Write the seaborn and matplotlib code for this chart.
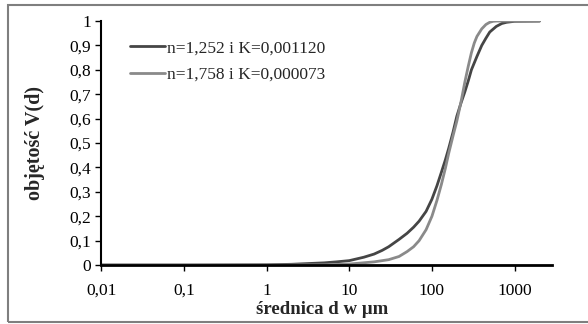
import numpy as np
import pandas as pd
import seaborn as sns
import matplotlib
matplotlib.use("Agg")
from matplotlib import pyplot as plt
from matplotlib.patches import Rectangle

# values
d_dark = [0.01, 0.1, 1, 2, 5, 7, 10, 15, 20, 25, 30, 40, 50, 60, 70, 85, 100, 115,
          130, 145, 160, 180, 200, 225, 250, 275, 300, 350, 400, 450, 500, 600,
          700, 800, 1000, 2000]
v_dark = [0.0, 0.0, 0.001, 0.003, 0.009, 0.013, 0.018, 0.032, 0.045, 0.06, 0.075,
          0.105, 0.13, 0.155, 0.18, 0.22, 0.27, 0.325, 0.38, 0.43, 0.48, 0.545,
          0.61, 0.665, 0.71, 0.755, 0.80, 0.855, 0.90, 0.93, 0.955, 0.978, 0.99,
          0.995, 0.999, 1.0]
d_light = [0.01, 0.1, 1, 5, 10, 20, 30, 40, 50, 60, 70, 85, 100, 115, 130, 145,
           160, 180, 200, 225, 250, 275, 300, 325, 350, 400, 450, 500, 550, 600,
           1000, 2000]
v_light = [0.0, 0.0, 0.0, 0.001, 0.004, 0.013, 0.022, 0.035, 0.055, 0.075, 0.10,
           0.145, 0.20, 0.265, 0.33, 0.395, 0.46, 0.53, 0.59, 0.67, 0.75, 0.815,
           0.87, 0.91, 0.937, 0.968, 0.986, 0.995, 0.999, 1.0, 1.0, 1.0]
labels = ["n=1,252 i K=0,001120", "n=1,758 i K=0,000073"]
colors = ["#454545", "#8a8a8a"]

x_ticks = [0.01, 0.1, 1, 10, 100, 1000]
x_tick_labels = ["0,01", "0,1", "1", "10", "100", "1000"]
y_ticks = [round(0.1 * i, 1) for i in range(11)]
y_tick_labels = ["0", "0,1", "0,2", "0,3", "0,4", "0,5", "0,6", "0,7", "0,8", "0,9", "1"]

df = pd.concat([
    pd.DataFrame({"d": d_dark, "V": v_dark, "seria": labels[0]}),
    pd.DataFrame({"d": d_light, "V": v_light, "seria": labels[1]}),
])

sns.set_style("white")
plt.rcParams["font.family"] = ["Liberation Serif", "DejaVu Serif"]

fig = plt.figure(figsize=(5.88, 3.24), dpi=100)
ax = fig.add_axes([0.172, 0.182, 0.767, 0.753])

sns.lineplot(data=df, x="d", y="V", hue="seria", palette=colors, linewidth=2.0,
             ax=ax, sort=False, estimator=None)

ax.set_xscale("log")
ax.set_xlim(0.01, 2840)
ax.set_ylim(0, 1)
ax.set_xticks(x_ticks)
ax.set_xticklabels(x_tick_labels)
ax.minorticks_off()
ax.set_yticks(y_ticks)
ax.set_yticklabels(y_tick_labels)
ax.tick_params(axis="both", labelsize=12.5, length=4, width=1, direction="out",
               colors="black", left=True, bottom=True, pad=3)
ax.tick_params(axis="x", pad=9)

for s in ["top", "right"]:
    ax.spines[s].set_visible(False)
ax.spines["left"].set_color("black")
ax.spines["left"].set_linewidth(1.5)
ax.spines["bottom"].set_color("black")
ax.spines["bottom"].set_linewidth(2.0)

ax.set_xlabel("średnica d w µm", fontsize=13.5, fontweight="bold")
ax.set_ylabel("objętość V(d)", fontsize=14.5, fontweight="bold")
ax.xaxis.set_label_coords(0.49, -0.148)
ax.yaxis.set_label_coords(-0.125, 0.5)

ax.legend(loc="upper left", bbox_to_anchor=(0.045, 0.957), frameon=False,
          fontsize=12.5, handlelength=2.0, handletextpad=0.1, labelspacing=0.6,
          borderpad=0)

# grey frame around the chart
fig.patches.append(Rectangle((8 / 588, 2 / 324), 1.0, 317 / 324,
                             transform=fig.transFigure, fill=False,
                             edgecolor="#7f7f7f", linewidth=1.5))

fig.savefig("out.png", dpi=100, facecolor="white")
